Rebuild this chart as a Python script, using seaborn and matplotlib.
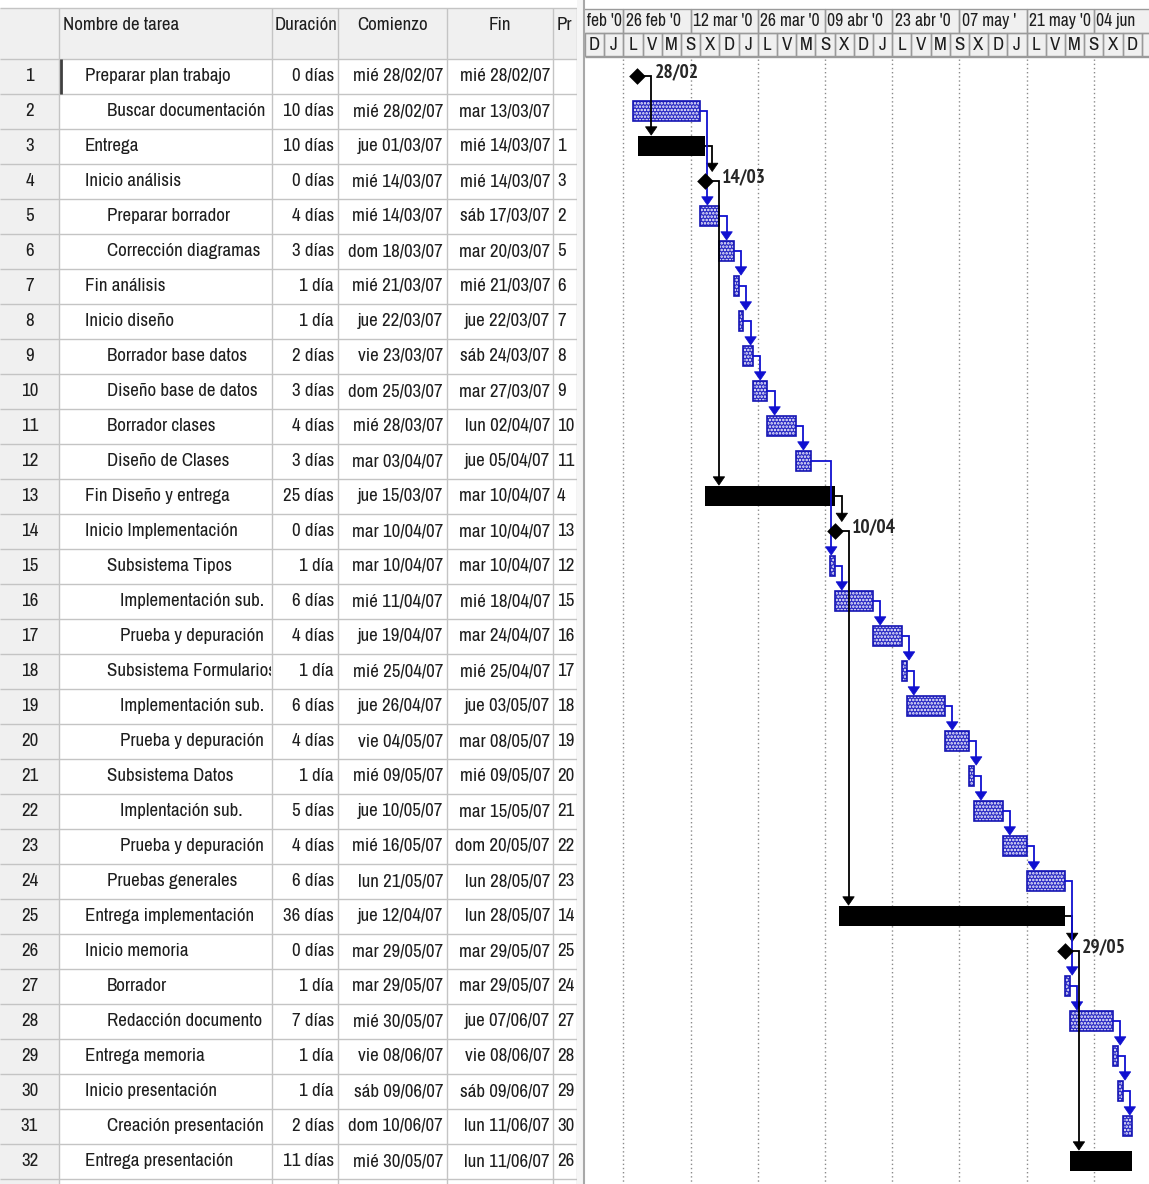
import numpy as np
import pandas as pd
import matplotlib
matplotlib.use("Agg")
import matplotlib.pyplot as plt
import matplotlib.dates as mdates
from matplotlib.patches import Rectangle, Polygon
from matplotlib import font_manager
import seaborn as sns

# ---------------- data ----------------
task_ids = list(range(1, 33))
task_names = [
    "Preparar plan trabajo", "Buscar documentación", "Entrega", "Inicio análisis",
    "Preparar borrador", "Corrección diagramas", "Fin análisis", "Inicio diseño",
    "Borrador base datos", "Diseño base de datos", "Borrador clases", "Diseño de Clases",
    "Fin Diseño y entrega", "Inicio Implementación", "Subsistema Tipos", "Implementación sub.",
    "Prueba y depuración", "Subsistema Formularios", "Implementación sub.", "Prueba y depuración",
    "Subsistema Datos", "Implentación sub.", "Prueba y depuración", "Pruebas generales",
    "Entrega implementación", "Inicio memoria", "Borrador", "Redacción documento",
    "Entrega memoria", "Inicio presentación", "Creación presentación", "Entrega presentación",
]
name_level = [0, 1, 0, 0, 1, 1, 0, 0, 1, 1, 1, 1, 0, 0, 1, 2,
              2, 1, 2, 2, 1, 2, 2, 1, 0, 0, 1, 1, 0, 0, 1, 0]
durations = [
    "0 días", "10 días", "10 días", "0 días", "4 días", "3 días", "1 día", "1 día",
    "2 días", "3 días", "4 días", "3 días", "25 días", "0 días", "1 día", "6 días",
    "4 días", "1 día", "6 días", "4 días", "1 día", "5 días", "4 días", "6 días",
    "36 días", "0 días", "1 día", "7 días", "1 día", "1 día", "2 días", "11 días",
]
start_txt = [
    "mié 28/02/07", "mié 28/02/07", "jue 01/03/07", "mié 14/03/07", "mié 14/03/07",
    "dom 18/03/07", "mié 21/03/07", "jue 22/03/07", "vie 23/03/07", "dom 25/03/07",
    "mié 28/03/07", "mar 03/04/07", "jue 15/03/07", "mar 10/04/07", "mar 10/04/07",
    "mié 11/04/07", "jue 19/04/07", "mié 25/04/07", "jue 26/04/07", "vie 04/05/07",
    "mié 09/05/07", "jue 10/05/07", "mié 16/05/07", "lun 21/05/07", "jue 12/04/07",
    "mar 29/05/07", "mar 29/05/07", "mié 30/05/07", "vie 08/06/07", "sáb 09/06/07",
    "dom 10/06/07", "mié 30/05/07",
]
end_txt = [
    "mié 28/02/07", "mar 13/03/07", "mié 14/03/07", "mié 14/03/07", "sáb 17/03/07",
    "mar 20/03/07", "mié 21/03/07", "jue 22/03/07", "sáb 24/03/07", "mar 27/03/07",
    "lun 02/04/07", "jue 05/04/07", "mar 10/04/07", "mar 10/04/07", "mar 10/04/07",
    "mié 18/04/07", "mar 24/04/07", "mié 25/04/07", "jue 03/05/07", "mar 08/05/07",
    "mié 09/05/07", "mar 15/05/07", "dom 20/05/07", "lun 28/05/07", "lun 28/05/07",
    "mar 29/05/07", "mar 29/05/07", "jue 07/06/07", "vie 08/06/07", "sáb 09/06/07",
    "lun 11/06/07", "lun 11/06/07",
]
predecessors = [None, None, 1, 3, 2, 5, 6, 7, 8, 9, 10, 11, 4, 13, 12, 15,
                16, 17, 18, 19, 20, 21, 22, 23, 14, 25, 24, 27, 28, 29, 30, 26]
critical_tasks = [1, 3, 4, 13, 14, 25, 26, 32]
# milestone positions as drawn on the timeline
milestone_ids = [1, 4, 14, 26]
milestone_time = ["2007-02-28 21:30", "2007-03-15 00:00", "2007-04-11 00:00", "2007-05-29 00:00"]
milestone_label = ["28/02", "14/03", "10/04", "29/05"]

# column headers as visible in the narrow columns
header_cols = ["Nombre de tarea", "Duración", "Comienzo", "Fin", "Pre"]
# major timescale cells (label text as visible in the narrow cells)
major_dates = ["2007-02-12", "2007-02-26", "2007-03-12", "2007-03-26", "2007-04-09",
               "2007-04-23", "2007-05-07", "2007-05-21", "2007-06-04"]
major_labels = ["feb '0", "26 feb '0", "12 mar '0", "26 mar '0", "09 abr '0",
                "23 abr '0", "07 may '", "21 may '0", "04 jun"]
day_letters = ["L", "M", "X", "J", "V", "S", "D"]
view_start = "2007-02-18"
grid_start = "2007-02-26"

# ---------------- style ----------------
sns.set_theme(style="white")
avail = {f.name for f in font_manager.fontManager.ttflist}
fam = [f for f in ["Liberation Sans Narrow", "Arial Narrow", "Archivo Narrow", "Liberation Sans", "DejaVu Sans"]
       if f in avail]
bold_fam = [f for f in ["PT Sans Narrow", "Archivo Narrow", "Liberation Sans", "DejaVu Sans"] if f in avail]
plt.rcParams["font.family"] = fam
plt.rcParams["hatch.linewidth"] = 1.2
TXT = "#1e1e1e"
LINE = "#c4c4c4"
HDR_BG = "#f0f0f0"
BLUE_F = "#2a2ac4"
BLUE_E = "#1414b4"
LINK_B = "#1010d0"

W, H = 1149, 1184
fig = plt.figure(figsize=(W / 100, H / 100), dpi=100)
fig.patch.set_facecolor("white")

# size text so that the first task name spans about the same width as in the source
_probe = fig.text(0, 0, task_names[0], fontsize=12)
_w = _probe.get_window_extent(renderer=fig.canvas.get_renderer()).width
_probe.remove()
FS = 12 * 146.0 / _w

PX_ROW = 35.0
def prow(ypx):
    return (ypx - 76.0) / PX_ROW + 1
Y_TOP, Y_BOT = prow(0), prow(H)
HDR_TOP = prow(8)
HDR_BOT = 0.5
n = len(task_ids)

# ---------------- table ----------------
TW = 577
ax_t = fig.add_axes([0, 0, TW / W, 1])
ax_t.set_xlim(0, TW)
ax_t.set_ylim(Y_BOT, Y_TOP)
ax_t.axis("off")
col_edges = [0, 59, 272, 338, 447, 553, TW]

ax_t.add_patch(Rectangle((0, HDR_TOP), TW, HDR_BOT - HDR_TOP, fc=HDR_BG, ec="none", zorder=0))
ax_t.add_patch(Rectangle((0, HDR_BOT), col_edges[1], Y_BOT - HDR_BOT, fc=HDR_BG, ec="none", zorder=0))
ax_t.hlines([HDR_TOP] + [k + 0.5 for k in range(0, n + 1)], 0, TW, colors=LINE, lw=1.0, zorder=1)
ax_t.vlines(col_edges[1:], HDR_TOP, Y_BOT, colors=LINE, lw=1.0, zorder=1)
# active cell marker
ax_t.vlines([col_edges[1] + 1.5], 0.5, 1.5, colors="#404040", lw=2.0, zorder=2)

def clip_rect(ax, x0, x1, y0, y1):
    return Rectangle((x0, y0), x1 - x0, y1 - y0, transform=ax.transData, fc="none", ec="none")

def ctext(ax, x, y, s, box, **kw):
    t = ax.text(x, y, s, clip_on=True, **kw)
    t.set_clip_path(clip_rect(ax, *box))
    return t

yh = prow(25)
hdr_pos = [(63, "left"), (275, "left"), ((338 + 447) / 2, "center"), ((447 + 553) / 2, "center"), (557, "left")]
for ci, (label, (hx, ha)) in enumerate(zip(header_cols, hdr_pos)):
    right = col_edges[ci + 2] - (5 if ci == 4 else 1)
    ctext(ax_t, hx, yh, label, (col_edges[ci + 1] + 1, right, HDR_TOP, HDR_BOT),
          ha=ha, va="center", fontsize=FS, color=TXT, zorder=3)

indent_px = {0: 85, 1: 107, 2: 120}
for i in range(n):
    y = i + 1
    ax_t.text(29.5, y, str(task_ids[i]), ha="center", va="center", fontsize=FS, color=TXT, zorder=3)
    ctext(ax_t, indent_px[name_level[i]], y, task_names[i], (col_edges[1], col_edges[2] - 1, y - 0.5, y + 0.5),
          ha="left", va="center", fontsize=FS, color=TXT, zorder=3)
    ax_t.text(334, y, durations[i], ha="right", va="center", fontsize=FS, color=TXT, zorder=3)
    ax_t.text(443, y, start_txt[i], ha="right", va="center", fontsize=FS, color=TXT, zorder=3)
    ax_t.text(550, y, end_txt[i], ha="right", va="center", fontsize=FS, color=TXT, zorder=3)
    if predecessors[i] is not None:
        ctext(ax_t, 557, y, str(predecessors[i]), (col_edges[5], col_edges[6] - 1, y - 0.5, y + 0.5),
              ha="left", va="center", fontsize=FS, color=TXT, zorder=3)

# divider between table and chart
fig.add_artist(Rectangle((TW / W, 0), 8 / W, 1, transform=fig.transFigure, fc="#f6f6f6", ec="none"))
fig.add_artist(plt.Line2D([584 / W, 584 / W], [0, 1], transform=fig.transFigure, color="#a8a8a8", lw=1.5))

# ---------------- gantt ----------------
PX_DAY = 4.8
GX = 585
ax_g = fig.add_axes([GX / W, 0, (W - GX) / W, 1])
x_left = mdates.date2num(pd.Timestamp(view_start))
x_right = x_left + (W - GX) / PX_DAY

df = pd.DataFrame({
    "id": task_ids,
    "row": np.arange(1, n + 1),
    "start": pd.to_datetime([s.split()[1] for s in start_txt], format="%d/%m/%y"),
    "finish": pd.to_datetime([s.split()[1] for s in end_txt], format="%d/%m/%y") + pd.Timedelta(days=1),
})
df["s"] = mdates.date2num(df["start"])
df["f"] = mdates.date2num(df["finish"])
df["crit"] = df["id"].isin(critical_tasks)
df["ms"] = df["id"].isin(milestone_ids)
ms_x = dict(zip(milestone_ids, mdates.date2num(pd.to_datetime(milestone_time))))

BAR_H = 0.56
blue = df[~df["ms"] & ~df["crit"]]
black = df[~df["ms"] & df["crit"]]
ax_g.barh(blue["row"], blue["f"] - blue["s"], left=blue["s"], height=BAR_H,
          color=BLUE_F, edgecolor="white", hatch=".....", linewidth=0, zorder=2)
ax_g.barh(blue["row"], blue["f"] - blue["s"], left=blue["s"], height=BAR_H,
          fill=False, edgecolor=BLUE_E, linewidth=1.2, zorder=3)
ax_g.barh(black["row"], black["f"] - black["s"], left=black["s"], height=BAR_H,
          color="black", linewidth=0, zorder=3)

# links
ARW_H = 0.24
ARW_W = 2.4
for i in range(n):
    p = predecessors[i]
    if p is None:
        continue
    pr = df.iloc[p - 1]
    su = df.iloc[i]
    col = "black" if pr["crit"] else LINK_B
    yp, ys = pr["row"], su["row"]
    if pr["ms"]:
        xs = ms_x[p]
        xd = xs + 2.9
    else:
        xs = pr["f"]
        xd = max(xs + 1.5, su["s"] + 0.3)
    tip = ys - (0.24 if su["ms"] else BAR_H / 2) - 0.03
    ax_g.plot([xs, xd, xd], [yp, yp, tip - ARW_H + 0.02], color=col, lw=1.3,
              solid_joinstyle="miter", zorder=4)
    ax_g.add_patch(Polygon([[xd - ARW_W / 2, tip - ARW_H], [xd + ARW_W / 2, tip - ARW_H], [xd, tip]],
                           closed=True, fc=col, ec=col, lw=0.5, zorder=4))

# milestones
ms_df = pd.DataFrame({"x": [ms_x[m] for m in milestone_ids], "row": [m for m in milestone_ids]})
sns.scatterplot(data=ms_df, x="x", y="row", marker="D", s=72, color="black", linewidth=0,
                ax=ax_g, legend=False, zorder=5)
for m, lab in zip(milestone_ids, milestone_label):
    ax_g.text(ms_x[m] + 3.6, m - 0.12, lab, ha="left", va="center", fontsize=FS * 1.03,
              fontweight="bold", family=bold_fam, color="#262626", zorder=5)

# gridlines
grid_x = mdates.date2num(pd.date_range(grid_start, periods=8, freq="14D"))
ax_g.vlines(grid_x, HDR_BOT, Y_BOT, colors="#8a8a8a", lw=1.0, linestyles=(0, (1, 2)), zorder=1)

# timescale header
MJ_T, MJ_B, MN_B = prow(9), prow(33), prow(56)
ax_g.add_patch(Rectangle((x_left, MJ_T), x_right - x_left, MN_B - MJ_T, fc=HDR_BG, ec="none", zorder=1))
for ds, lab in zip(major_dates, major_labels):
    xm = mdates.date2num(pd.Timestamp(ds))
    ax_g.add_patch(Rectangle((xm, MJ_T), 14, MJ_B - MJ_T, fc="none", ec="#9a9a9a", lw=1.0, zorder=2))
    lx = max(xm, x_left) + 0.5
    ctext(ax_g, lx, (MJ_T + MJ_B) / 2, lab, (max(xm, x_left), min(xm + 14 - 0.3, x_right), MJ_T, MJ_B),
          ha="left", va="center", fontsize=FS * 0.93, color=TXT, zorder=3)
mn = pd.date_range(view_start, periods=30, freq="4D")
for d in mn:
    xm = mdates.date2num(d)
    ax_g.add_patch(Rectangle((xm, MJ_B), 4, MN_B - MJ_B, fc="none", ec="#9a9a9a", lw=1.0, zorder=2))
    if xm + 3 < x_right:
        ax_g.text(xm + 2, (MJ_B + MN_B) / 2, day_letters[d.weekday()], ha="center", va="center",
                  fontsize=FS, color=TXT, zorder=3)
ax_g.hlines([MN_B + 0.02], x_left, x_right, colors="#9a9a9a", lw=1.0, zorder=2)

ax_g.set_xlim(x_left, x_right)
ax_g.set_ylim(Y_BOT, Y_TOP)
ax_g.axis("off")

fig.savefig("out.png", dpi=100, facecolor="white")
